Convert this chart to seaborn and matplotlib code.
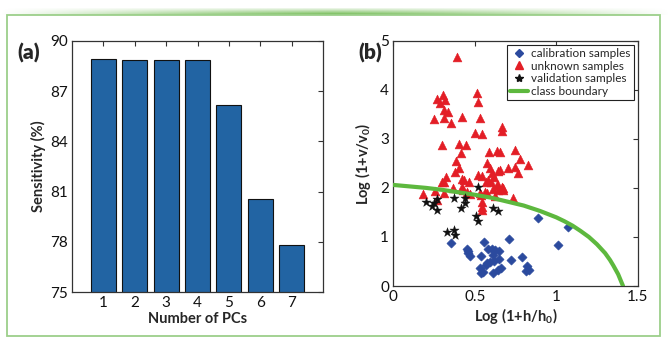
import numpy as np
import pandas as pd
import matplotlib
matplotlib.use("Agg")
import matplotlib.pyplot as plt
import seaborn as sns
from matplotlib.lines import Line2D

# ---------------- data ----------------
pcs = ["1", "2", "3", "4", "5", "6", "7"]
sensitivity = [88.95, 88.88, 88.88, 88.88, 86.15, 80.55, 77.8]

cal_x = [0.352, 0.45, 0.46, 0.471, 0.456, 0.559, 0.583, 0.603, 0.624, 0.651, 0.712,
         0.538, 0.651, 0.614, 0.72, 0.792, 0.823, 0.815, 0.83, 0.532, 0.549, 0.536,
         0.573, 0.593, 0.618, 0.57, 0.61, 0.645, 0.659, 0.89, 1.013, 1.07]
cal_y = [0.87, 0.75, 0.67, 0.61, 0.72, 0.90, 0.75, 0.75, 0.73, 0.72, 0.95,
         0.61, 0.56, 0.63, 0.52, 0.60, 0.41, 0.31, 0.33, 0.36, 0.29, 0.26,
         0.46, 0.48, 0.50, 0.42, 0.26, 0.33, 0.36, 1.38, 0.84, 1.21]

unk_x = [0.393, 0.512, 0.518, 0.266, 0.303, 0.317, 0.288, 0.313, 0.338, 0.248,
         0.313, 0.354, 0.419, 0.532, 0.501, 0.546, 0.665, 0.665, 0.301, 0.405,
         0.446, 0.416, 0.385, 0.405, 0.379, 0.324, 0.297, 0.313, 0.42, 0.436,
         0.466, 0.518, 0.573, 0.587, 0.634, 0.655, 0.593, 0.608, 0.620, 0.640,
         0.655, 0.702, 0.747, 0.747, 0.778, 0.825, 0.763, 0.579, 0.567, 0.600,
         0.634, 0.665, 0.675, 0.645, 0.675, 0.614, 0.624, 0.563, 0.538, 0.543,
         0.543, 0.543, 0.470, 0.450, 0.43, 0.42, 0.368, 0.313, 0.256, 0.184,
         0.532, 0.573, 0.645, 0.737, 0.266, 0.542]
unk_y = [4.67, 3.93, 3.76, 3.81, 3.89, 3.79, 3.72, 3.59, 3.55, 3.40,
         3.42, 3.32, 3.45, 3.42, 3.11, 3.10, 3.25, 3.15, 2.87, 2.89,
         2.87, 2.72, 2.55, 2.40, 2.32, 2.23, 2.11, 2.11, 2.19, 2.17,
         2.13, 2.26, 2.50, 2.74, 2.76, 2.74, 2.40, 2.30, 2.23, 2.35,
         2.36, 2.40, 2.77, 2.43, 2.58, 2.47, 2.30, 2.16, 2.13, 2.11,
         2.06, 2.02, 1.99, 1.96, 1.96, 1.97, 1.83, 1.92, 1.85, 1.72,
         1.62, 1.55, 1.87, 1.92, 1.96, 2.01, 1.99, 1.89, 1.94, 1.87,
         1.89, 1.89, 2.06, 1.79, 1.75, 2.24]

val_x = [0.199, 0.236, 0.266, 0.25, 0.27, 0.373, 0.44, 0.44, 0.414, 0.518,
         0.508, 0.522, 0.614, 0.641, 0.328, 0.373, 0.379]
val_y = [1.71, 1.63, 1.55, 1.69, 1.77, 1.79, 1.79, 1.70, 1.60, 2.01,
         1.43, 1.32, 1.60, 1.53, 1.11, 1.14, 1.03]

bnd_x = [0.0, 0.1, 0.2, 0.3, 0.4, 0.5, 0.6, 0.7, 0.8, 0.9, 1.0, 1.05, 1.1, 1.15,
         1.2, 1.25, 1.3, 1.33, 1.35, 1.37, 1.38, 1.39, 1.40, 1.41]
bnd_y = [2.06, 2.03, 2.00, 1.96, 1.91, 1.86, 1.80, 1.72, 1.64, 1.53, 1.40, 1.32, 1.23, 1.12,
         1.00, 0.85, 0.67, 0.53, 0.42, 0.30, 0.24, 0.16, 0.08, 0.0]

# ---------------- style ----------------
sns.set_theme(style="white")
plt.rcParams["font.family"] = ["Lato", "DejaVu Sans"]
plt.rcParams["mathtext.default"] = "regular"
plt.rcParams["xtick.direction"] = "in"
plt.rcParams["ytick.direction"] = "in"

fig = plt.figure(figsize=(6.7, 3.52), dpi=100)
fig.patch.set_facecolor("white")

# decorative frame and gradient band
frame = plt.Rectangle((7 / 670, 1 - 336 / 352), (660 - 7) / 670, (336 - 15) / 352,
                      transform=fig.transFigure, fill=False, edgecolor="#9ccf8a",
                      linewidth=1.3, zorder=0)
fig.patches.append(frame)
band_ax = fig.add_axes([0.0, 1 - 15 / 352, 1.0, 7 / 352])
band_ax.axis("off")
xs = np.linspace(-1, 1, 400)
hprof = np.clip(1 - np.abs(xs) ** 1.3, 0, 1)
vprof = np.linspace(0.1, 1, 20)[:, None]
alpha = (hprof[None, :] * vprof)
rgba = np.zeros((20, 400, 4))
rgba[..., 0] = 0x6a / 255
rgba[..., 1] = 0xb8 / 255
rgba[..., 2] = 0x4a / 255
rgba[..., 3] = alpha
band_ax.imshow(rgba, aspect="auto", extent=[0, 1, 0, 1], origin="upper")
band_ax.set_xlim(0, 1)
band_ax.set_ylim(0, 1)

spine_col = "#333333"

def style_axes(ax):
    for s in ax.spines.values():
        s.set_visible(True)
        s.set_color(spine_col)
        s.set_linewidth(0.9)
    ax.tick_params(which="both", direction="in", top=True, right=True,
                   length=3.5, width=0.8, color=spine_col, labelsize=11,
                   labelcolor="#111111", pad=3)

# ---------------- panel (a) ----------------
ax1 = fig.add_axes([72 / 670, 1 - 292 / 352, 251 / 670, 251 / 352])
df_a = pd.DataFrame({"pcs": pcs, "sens": sensitivity})
sns.barplot(data=df_a, x="pcs", y="sens", color="#2264a3", saturation=1,
            width=0.8, edgecolor="#111111", linewidth=0.8, ax=ax1)
ax1.set_xlim(-1, 7)
ax1.set_ylim(75, 90)
ax1.set_yticks([75, 78, 81, 84, 87, 90])
ax1.set_xlabel("Number of PCs", fontsize=10.5, fontweight="bold", labelpad=1)
ax1.set_ylabel("Sensitivity (%)", fontsize=10.5, fontweight="bold", labelpad=3)
style_axes(ax1)
fig.text(29 / 670, 1 - 53 / 352, "(a)", fontsize=15, fontweight="heavy",
         ha="center", va="center")

# ---------------- panel (b) ----------------
ax2 = fig.add_axes([393.3 / 670, 1 - 286 / 352, 244.4 / 670, 245.3 / 352])
df_bnd = pd.DataFrame({"x": bnd_x, "y": bnd_y})
sns.lineplot(data=df_bnd, x="x", y="y", color="#5db83e", linewidth=3,
             sort=False, estimator=None, ax=ax2, zorder=3)
sns.scatterplot(x=unk_x, y=unk_y, marker="^", s=40, color="#e31e26",
                edgecolor="#e31e26", linewidth=0.4, ax=ax2, zorder=2)
sns.scatterplot(x=cal_x, y=cal_y, marker="D", s=22, color="#2b4a9e",
                edgecolor="#2b4a9e", linewidth=0.4, ax=ax2, zorder=2)
sns.scatterplot(x=val_x, y=val_y, marker="*", s=48, color="#111111",
                edgecolor="#111111", linewidth=0.3, ax=ax2, zorder=4)
ax2.set_xlim(0, 1.5)
ax2.set_ylim(0, 5)
ax2.set_xticks([0, 0.5, 1, 1.5])
ax2.set_xticklabels(["0", "0.5", "1", "1.5"])
ax2.set_yticks([0, 1, 2, 3, 4, 5])
ax2.set_xlabel("Log (1+h/h$_0$)", fontsize=10.5, fontweight="bold", labelpad=1)
ax2.set_ylabel("Log (1+v/v$_0$)", fontsize=10.5, fontweight="bold", labelpad=5)
style_axes(ax2)

handles = [
    Line2D([], [], marker="D", linestyle="none", color="#2b4a9e", markersize=4.5),
    Line2D([], [], marker="^", linestyle="none", color="#e31e26", markersize=5.5),
    Line2D([], [], marker="*", linestyle="none", color="#111111", markersize=6),
    Line2D([], [], color="#5db83e", linewidth=3),
]
labels = ["calibration samples", "unknown samples", "validation samples", "class boundary"]
leg = ax2.legend(handles, labels, loc="upper right", fontsize=8.5, frameon=True,
                 fancybox=False, framealpha=1, edgecolor="#222222",
                 borderpad=0.25, labelspacing=0.15, handlelength=1.5,
                 handletextpad=0.3, borderaxespad=0.35)
leg.get_frame().set_linewidth(0.8)

fig.text(370 / 670, 1 - 53 / 352, "(b)", fontsize=15, fontweight="heavy",
         ha="center", va="center")

fig.savefig("out.png", dpi=100, facecolor="white")
